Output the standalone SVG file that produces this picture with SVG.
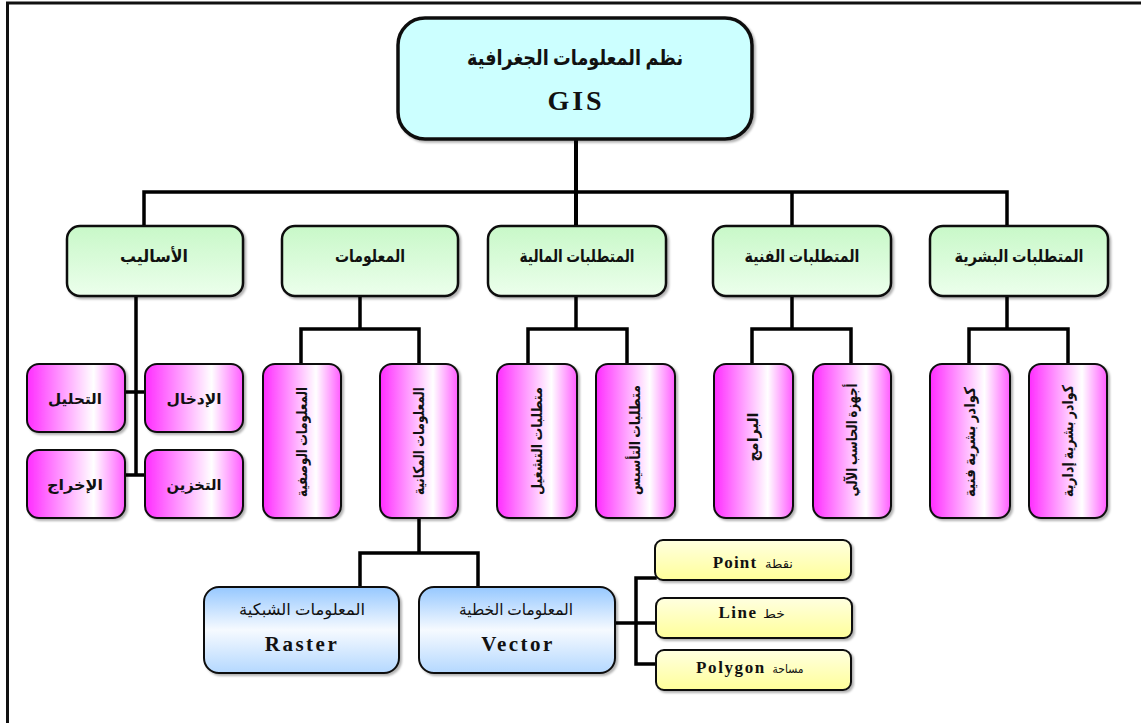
<svg xmlns="http://www.w3.org/2000/svg" width="1141" height="723" viewBox="0 0 1141 723">
<defs>
<linearGradient id="gGreen" x1="0" y1="0" x2="0" y2="1"><stop offset="0" stop-color="#c8f8c8"/><stop offset="1" stop-color="#ecffec"/></linearGradient>
<linearGradient id="gMag" x1="0" y1="0" x2="1" y2="0"><stop offset="0" stop-color="#ff2cff"/><stop offset="0.68" stop-color="#ffffff"/><stop offset="1" stop-color="#ff5cff"/></linearGradient>
<linearGradient id="gBlue" x1="0" y1="0" x2="0" y2="1"><stop offset="0" stop-color="#96c8ff"/><stop offset="0.5" stop-color="#f6faff"/><stop offset="1" stop-color="#b4d8ff"/></linearGradient>
<linearGradient id="gYel" x1="0" y1="0" x2="0" y2="1"><stop offset="0" stop-color="#ffffe0"/><stop offset="1" stop-color="#ffff9a"/></linearGradient>
<filter id="sh" x="-10%" y="-10%" width="130%" height="130%"><feDropShadow dx="2" dy="2" stdDeviation="1.2" flood-color="#000" flood-opacity="0.3"/></filter>
</defs>
<style>
.box{stroke:#111;stroke-width:2.5;filter:url(#sh)}
.top{fill:#ccffff;stroke-width:3.5}
.grn{fill:url(#gGreen)}
.mag{fill:url(#gMag);stroke-width:2}
.blu{fill:url(#gBlue);stroke-width:2}
.yel{fill:url(#gYel);stroke-width:2}
.ar{font-family:'Liberation Serif','DejaVu Sans',serif;fill:#111;text-anchor:middle}
.la{font-family:'Liberation Serif',serif;font-weight:bold;fill:#111;text-anchor:middle}
.ln{fill:none;stroke:#000;stroke-width:3.5;stroke-linejoin:miter;stroke-linecap:square}
</style>
<rect width="1141" height="723" fill="#fff"/>
<path d="M7.5 723 V3 H1141" fill="none" stroke="#111" stroke-width="3"/>
<g id="connectors">
<path class="ln" d="M576 140 V226" style="stroke-width:4"/>
<path class="ln" d="M144 226 V192 H1007 V226 M792 192 V226"/>
<path class="ln" d="M136 296 V475 M125 392 H145 M125 475 H145"/>
<path class="ln" d="M360 296 V329 M301 364 V329 H419 V364"/>
<path class="ln" d="M576 296 V329 M528 364 V329 H627 V364"/>
<path class="ln" d="M792 296 V329 M752 364 V329 H851 V364"/>
<path class="ln" d="M1007 296 V329 M969 364 V329 H1068 V364"/>
<path class="ln" d="M419 518 V553 M360 587 V553 H478 V587"/>
<path class="ln" d="M615 623 H636 M655 578 H636 V664 H655 M636 623 H655"/>
</g>
<g id="n-gis"><rect class="box top" x="398" y="18" width="354" height="121" rx="27"/>
<text class="ar" x="575" y="65" font-size="21" font-weight="bold" textLength="216" lengthAdjust="spacingAndGlyphs">نظم المعلومات الجغرافية</text>
<text class="la" x="576" y="110" font-size="28" letter-spacing="3">GIS</text></g>
<g id="n-asalib"><rect class="box grn" x="67" y="226" width="176" height="70" rx="13"/><text class="ar" x="154" y="262" font-size="17" font-weight="bold" textLength="68" lengthAdjust="spacingAndGlyphs">الأساليب</text></g>
<g id="n-maalumat"><rect class="box grn" x="282" y="226" width="176" height="70" rx="13"/><text class="ar" x="370" y="262" font-size="17" font-weight="bold" textLength="70" lengthAdjust="spacingAndGlyphs">المعلومات</text></g>
<g id="n-maliya"><rect class="box grn" x="488" y="226" width="178" height="70" rx="13"/><text class="ar" x="577" y="262" font-size="17" font-weight="bold" textLength="115" lengthAdjust="spacingAndGlyphs">المتطلبات المالية</text></g>
<g id="n-fanniya"><rect class="box grn" x="713" y="226" width="178" height="70" rx="13"/><text class="ar" x="802" y="262" font-size="17" font-weight="bold" textLength="115" lengthAdjust="spacingAndGlyphs">المتطلبات الفنية</text></g>
<g id="n-bashariya"><rect class="box grn" x="930" y="226" width="178" height="70" rx="13"/><text class="ar" x="1019" y="262" font-size="17" font-weight="bold" textLength="129" lengthAdjust="spacingAndGlyphs">المتطلبات البشرية</text></g>
<g id="n-tahlil"><rect class="box mag" x="27" y="364" width="98" height="68" rx="12"/><text class="ar" x="75" y="404" font-size="15" font-weight="bold" textLength="54" lengthAdjust="spacingAndGlyphs">التحليل</text></g>
<g id="n-idkhal"><rect class="box mag" x="145" y="364" width="98" height="68" rx="12"/><text class="ar" x="194" y="404" font-size="15" font-weight="bold" textLength="55" lengthAdjust="spacingAndGlyphs">الإدخال</text></g>
<g id="n-ikhraj"><rect class="box mag" x="27" y="450" width="98" height="68" rx="12"/><text class="ar" x="75" y="490" font-size="15" font-weight="bold" textLength="56" lengthAdjust="spacingAndGlyphs">الإخراج</text></g>
<g id="n-takhzin"><rect class="box mag" x="145" y="450" width="98" height="68" rx="12"/><text class="ar" x="194" y="490" font-size="15" font-weight="bold" textLength="55" lengthAdjust="spacingAndGlyphs">التخزين</text></g>
<g id="n-wasfiya"><rect class="box mag" x="263" y="364" width="78" height="154" rx="12"/><text class="ar" transform="translate(307,442) rotate(-90)" font-size="15" font-weight="bold" textLength="110" lengthAdjust="spacingAndGlyphs">المعلومات الوصفية</text></g>
<g id="n-makaniya"><rect class="box mag" x="380" y="364" width="78" height="154" rx="12"/><text class="ar" transform="translate(424,441) rotate(-90)" font-size="15" font-weight="bold" textLength="108" lengthAdjust="spacingAndGlyphs">المعلومات المكانية</text></g>
<g id="n-tashghil"><rect class="box mag" x="497" y="364" width="80" height="154" rx="12"/><text class="ar" transform="translate(542,441) rotate(-90)" font-size="15" font-weight="bold" textLength="108" lengthAdjust="spacingAndGlyphs">متطلبات التشغيل</text></g>
<g id="n-tasis"><rect class="box mag" x="596" y="364" width="79" height="154" rx="12"/><text class="ar" transform="translate(640,440) rotate(-90)" font-size="15" font-weight="bold" textLength="110" lengthAdjust="spacingAndGlyphs">متطلبات التأسيس</text></g>
<g id="n-baramij"><rect class="box mag" x="714" y="364" width="79" height="154" rx="12"/><text class="ar" transform="translate(758,437) rotate(-90)" font-size="15" font-weight="bold" textLength="49" lengthAdjust="spacingAndGlyphs">البرامج</text></g>
<g id="n-ajhiza"><rect class="box mag" x="813" y="364" width="78" height="154" rx="12"/><text class="ar" transform="translate(857,440) rotate(-90)" font-size="15" font-weight="bold" textLength="113" lengthAdjust="spacingAndGlyphs">أجهزة الحاسب الآلي</text></g>
<g id="n-kawadir-f"><rect class="box mag" x="930" y="364" width="80" height="154" rx="12"/><text class="ar" transform="translate(975,442) rotate(-90)" font-size="15" font-weight="bold" textLength="110" lengthAdjust="spacingAndGlyphs">كوادر بشرية فنية</text></g>
<g id="n-kawadir-i"><rect class="box mag" x="1029" y="364" width="78" height="154" rx="12"/><text class="ar" transform="translate(1073,441) rotate(-90)" font-size="15" font-weight="bold" textLength="112" lengthAdjust="spacingAndGlyphs">كوادر بشرية إدارية</text></g>
<g id="n-raster"><rect class="box blu" x="204" y="587" width="195" height="86" rx="15"/>
<text class="ar" x="302" y="615" font-size="16" textLength="126" lengthAdjust="spacingAndGlyphs">المعلومات الشبكية</text>
<text class="la" x="302" y="651" font-size="21" letter-spacing="2.5">Raster</text></g>
<g id="n-vector"><rect class="box blu" x="419" y="587" width="196" height="86" rx="15"/>
<text class="ar" x="516" y="615" font-size="16" textLength="114" lengthAdjust="spacingAndGlyphs">المعلومات الخطية</text>
<text class="la" x="518" y="651" font-size="21" letter-spacing="2.5">Vector</text></g>
<g id="n-point"><rect class="box yel" x="655" y="540" width="196" height="40" rx="8"/>
<text class="la" y="568" font-size="17"><tspan x="735" letter-spacing="1.2">Point</tspan><tspan class="ar" x="779" font-size="12" font-weight="normal" textLength="28" lengthAdjust="spacingAndGlyphs">نقطة</tspan></text></g>
<g id="n-line"><rect class="box yel" x="656" y="598" width="196" height="40" rx="8"/>
<text class="la" y="618" font-size="17"><tspan x="738" letter-spacing="1.5">Line</tspan><tspan class="ar" x="774" font-size="12" font-weight="normal" textLength="22" lengthAdjust="spacingAndGlyphs">خط</tspan></text></g>
<g id="n-polygon"><rect class="box yel" x="656" y="650" width="195" height="40" rx="8"/>
<text class="la" y="673" font-size="17"><tspan x="731" letter-spacing="1.6">Polygon</tspan><tspan class="ar" x="788" font-size="12" font-weight="normal" textLength="31" lengthAdjust="spacingAndGlyphs">مساحة</tspan></text></g>
</svg>
